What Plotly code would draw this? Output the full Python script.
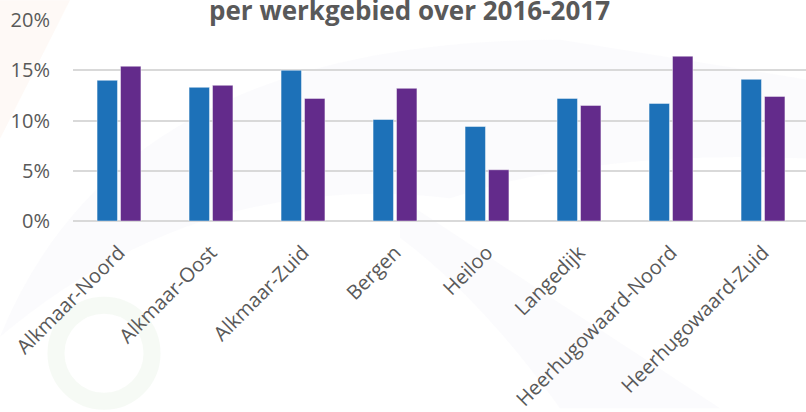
import plotly.graph_objects as go

categories = ["Alkmaar-Noord", "Alkmaar-Oost", "Alkmaar-Zuid", "Bergen", "Heiloo",
              "Langedijk", "Heerhugowaard-Noord", "Heerhugowaard-Zuid"]
values_2016 = [0.140, 0.133, 0.150, 0.101, 0.094, 0.122, 0.117, 0.141]
values_2017 = [0.154, 0.135, 0.122, 0.132, 0.051, 0.115, 0.164, 0.124]
series_names = ["2016", "2017"]
title_text = "per werkgebied over 2016-2017"
y_ticks = [0, 0.05, 0.10, 0.15, 0.20]

W, H = 806, 412
ML, MR, MT, MB = 73, 0, 20, 189
PW, PH = W - ML - MR, H - MT - MB

def px(x):
    return (x - ML) / PW

def py(y):
    return 1 - (y - MT) / PH

fig = go.Figure()
fig.add_trace(go.Bar(x=categories, y=values_2016, name=series_names[0],
                     marker=dict(color="#1d71b8", line=dict(color="rgba(255,255,255,0.45)", width=1))))
fig.add_trace(go.Bar(x=categories, y=values_2017, name=series_names[1],
                     marker=dict(color="#632b8b", line=dict(color="rgba(255,255,255,0.45)", width=1))))

shapes = [
    # faint watermark shapes
    dict(type="path", xref="paper", yref="paper", layer="below",
         path=f"M {px(0)} {py(0)} L {px(70)} {py(0)} L {px(0)} {py(140)} Z",
         fillcolor="rgba(252,232,222,0.28)", line=dict(width=0)),
    dict(type="path", xref="paper", yref="paper", layer="below",
         path=(f"M {px(0)} {py(340)} Q {px(120)} {py(40)} {px(560)} {py(40)} "
               f"L {px(806)} {py(80)} L {px(806)} {py(160)} "
               f"Q {px(600)} {py(150)} {px(450)} {py(200)} "
               f"Q {px(200)} {py(170)} {px(0)} {py(340)} Z"),
         fillcolor="rgba(240,240,247,0.25)", line=dict(width=0)),
    dict(type="path", xref="paper", yref="paper", layer="below",
         path=(f"M {px(400)} {py(200)} Q {px(550)} {py(300)} {px(720)} {py(412)} "
               f"L {px(560)} {py(412)} Q {px(480)} {py(300)} {px(400)} {py(240)} Z"),
         fillcolor="rgba(240,240,247,0.25)", line=dict(width=0)),
    dict(type="circle", xref="paper", yref="paper", layer="below",
         x0=px(56), x1=px(152), y0=py(405), y1=py(308),
         fillcolor="rgba(0,0,0,0)", line=dict(color="rgba(215,232,208,0.22)", width=17)),
]

fig.update_layout(
    width=W, height=H,
    margin=dict(l=ML, r=MR, t=MT, b=MB, pad=0),
    paper_bgcolor="white", plot_bgcolor="rgba(0,0,0,0)",
    showlegend=False,
    barmode="group", bargap=0.49, bargroupgap=0.13,
    font=dict(family="Open Sans", color="#595959", size=20),
    shapes=shapes,
    annotations=[dict(text=f"<b>{title_text}</b>", xref="paper", yref="paper",
                      x=px(409), y=py(10), xanchor="center", yanchor="middle",
                      showarrow=False, font=dict(family="Open Sans", size=26, color="#595959"))],
)
fig.update_xaxes(range=[-0.5, -0.5 + PW / 92.0], tickangle=-45, showgrid=False,
                 showline=False, ticks="", ticklabelstandoff=15,
                 tickfont=dict(size=20, color="#595959"))
fig.update_yaxes(range=[0, 0.2], tickvals=y_ticks, tickformat=".0%", showgrid=True,
                 gridcolor="#d9d9d9", gridwidth=2, zeroline=True, zerolinecolor="#d9d9d9",
                 zerolinewidth=2, showline=False, ticks="", ticklabelstandoff=22,
                 tickfont=dict(size=20, color="#595959"))

fig.write_html("out.html", config={"displayModeBar": False},
               post_script="document.body.style.margin='0';")
